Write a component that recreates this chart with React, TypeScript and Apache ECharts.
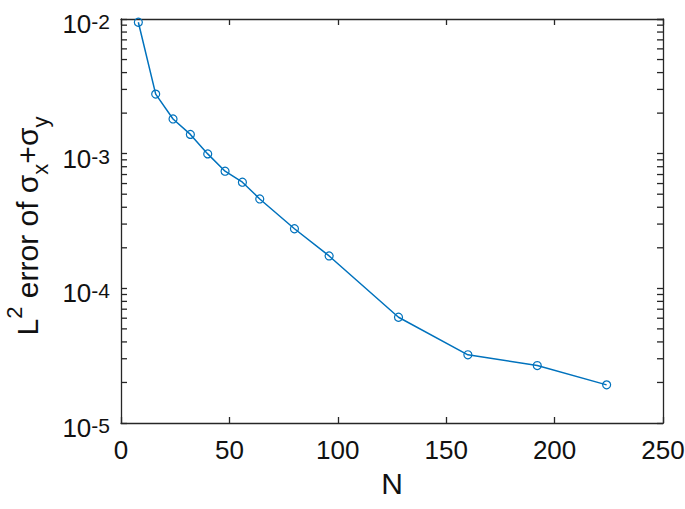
import React, { useEffect, useRef } from "react";
import * as echarts from "echarts";

const nValues = [8, 16, 24, 32, 40, 48, 56, 64, 80, 96, 128, 160, 192, 224];
const errValues = [
  9.46e-3, 2.77e-3, 1.81e-3, 1.39e-3, 9.96e-4, 7.41e-4, 6.14e-4, 4.61e-4,
  2.77e-4, 1.74e-4, 6.1e-5, 3.21e-5, 2.67e-5, 1.92e-5,
];
const xMin = 0;
const xMax = 250;
const xInterval = 50;
const yMin = 1e-5;
const yMax = 1e-2;
const yMinorTicks = [
  2e-5, 3e-5, 4e-5, 5e-5, 6e-5, 7e-5, 8e-5, 9e-5,
  2e-4, 3e-4, 4e-4, 5e-4, 6e-4, 7e-4, 8e-4, 9e-4,
  2e-3, 3e-3, 4e-3, 5e-3, 6e-3, 7e-3, 8e-3, 9e-3,
];

const FONT = "'Liberation Sans', Arial, Helvetica, sans-serif";
const AX = "#262626";
const BLUE = "#0072BD";
const TICK_LEN = 6;

export default function App() {
  const ref = useRef<HTMLDivElement>(null);
  useEffect(() => {
    if (!ref.current) return;
    const chart = echarts.init(ref.current, null, { renderer: "svg" });
    const axisLine = { show: true, onZero: false, lineStyle: { color: AX, width: 1.3 } };
    const axisTick = { show: true, inside: true, length: TICK_LEN, lineStyle: { color: AX, width: 1.3 } };
    const option: any = {
      animation: false,
      backgroundColor: "#ffffff",
      grid: { left: 121, right: 22, top: 19, bottom: 86, containLabel: false, outerBoundsMode: "none" },
      xAxis: [
        {
          type: "value",
          position: "bottom",
          min: xMin,
          max: xMax,
          interval: xInterval,
          axisLine,
          axisTick,
          splitLine: { show: false },
          axisLabel: { show: true, color: "#111", fontSize: 26, fontFamily: FONT, margin: 14 },
          name: "N",
          nameLocation: "middle",
          nameGap: 45,
          nameTextStyle: { color: "#111", fontSize: 30, fontFamily: FONT },
        },
        {
          type: "value",
          position: "top",
          min: xMin,
          max: xMax,
          interval: xInterval,
          axisLine,
          axisTick,
          splitLine: { show: false },
          axisLabel: { show: false },
        },
      ],
      yAxis: [
        {
          type: "log",
          logBase: 10,
          position: "left",
          min: yMin,
          max: yMax,
          axisLine,
          axisTick,
          splitLine: { show: false },
          minorTick: { show: false },
          axisLabel: {
            show: true,
            margin: 11,
            padding: [10, 0, 0, 0],
            fontSize: 26,
            fontFamily: FONT,
            color: "#111",
            formatter: (v: number) => `{b|10}{s|${Math.round(Math.log10(v))}}`,
            rich: {
              b: { fontSize: 26, fontFamily: FONT, color: "#111", lineHeight: 26, verticalAlign: "middle" },
              s: { fontSize: 21, fontFamily: FONT, color: "#111", lineHeight: 18, verticalAlign: "top" },
            },
          },
          name: "{n|L}{sup|2}{n| error of σ}{sub|x}{n|+σ}{sub|y}",
          nameLocation: "middle",
          nameRotate: 90,
          nameGap: 70,
          nameTextStyle: {
            color: "#111",
            fontFamily: FONT,
            fontSize: 30,
            padding: [0, 10, 0, 0],
            rich: {
              n: { fontSize: 30, fontFamily: FONT, color: "#111", lineHeight: 48, verticalAlign: "middle" },
              sup: { fontSize: 22, fontFamily: FONT, color: "#111", lineHeight: 34, verticalAlign: "top" },
              sub: { fontSize: 22, fontFamily: FONT, color: "#111", lineHeight: 28, verticalAlign: "bottom" },
            },
          },
        },
        {
          type: "log",
          logBase: 10,
          position: "right",
          min: yMin,
          max: yMax,
          axisLine,
          axisTick,
          splitLine: { show: false },
          axisLabel: { show: false },
        },
      ],
      series: [
        {
          type: "custom",
          xAxisIndex: 0,
          yAxisIndex: 0,
          silent: true,
          clip: false,
          encode: { x: 0, y: 1 },
          data: yMinorTicks.map((v) => [xMin, v]),
          renderItem: (_params: any, api: any) => {
            const v = api.value(1);
            const pl = api.coord([xMin, v]);
            const pr = api.coord([xMax, v]);
            const style = { stroke: AX, lineWidth: 1.3 };
            return {
              type: "group",
              children: [
                { type: "line", shape: { x1: pl[0], y1: pl[1], x2: pl[0] + TICK_LEN, y2: pl[1] }, style },
                { type: "line", shape: { x1: pr[0], y1: pr[1], x2: pr[0] - TICK_LEN, y2: pr[1] }, style },
              ],
            };
          },
        },
        {
          type: "line",
          xAxisIndex: 0,
          yAxisIndex: 0,
          data: nValues.map((n, i) => [n, errValues[i]]),
          lineStyle: { color: BLUE, width: 1.5 },
          symbol: "circle",
          symbolSize: 8,
          showSymbol: true,
          itemStyle: { color: "rgba(0,0,0,0)", borderColor: BLUE, borderWidth: 1.2 },
          emphasis: { disabled: true },
        },
      ],
    };
    chart.setOption(option);
    return () => chart.dispose();
  }, []);
  return (
    <div
      ref={ref}
      style={{ position: "fixed", left: 0, top: 0, width: 685, height: 509, background: "#fff" }}
    />
  );
}
